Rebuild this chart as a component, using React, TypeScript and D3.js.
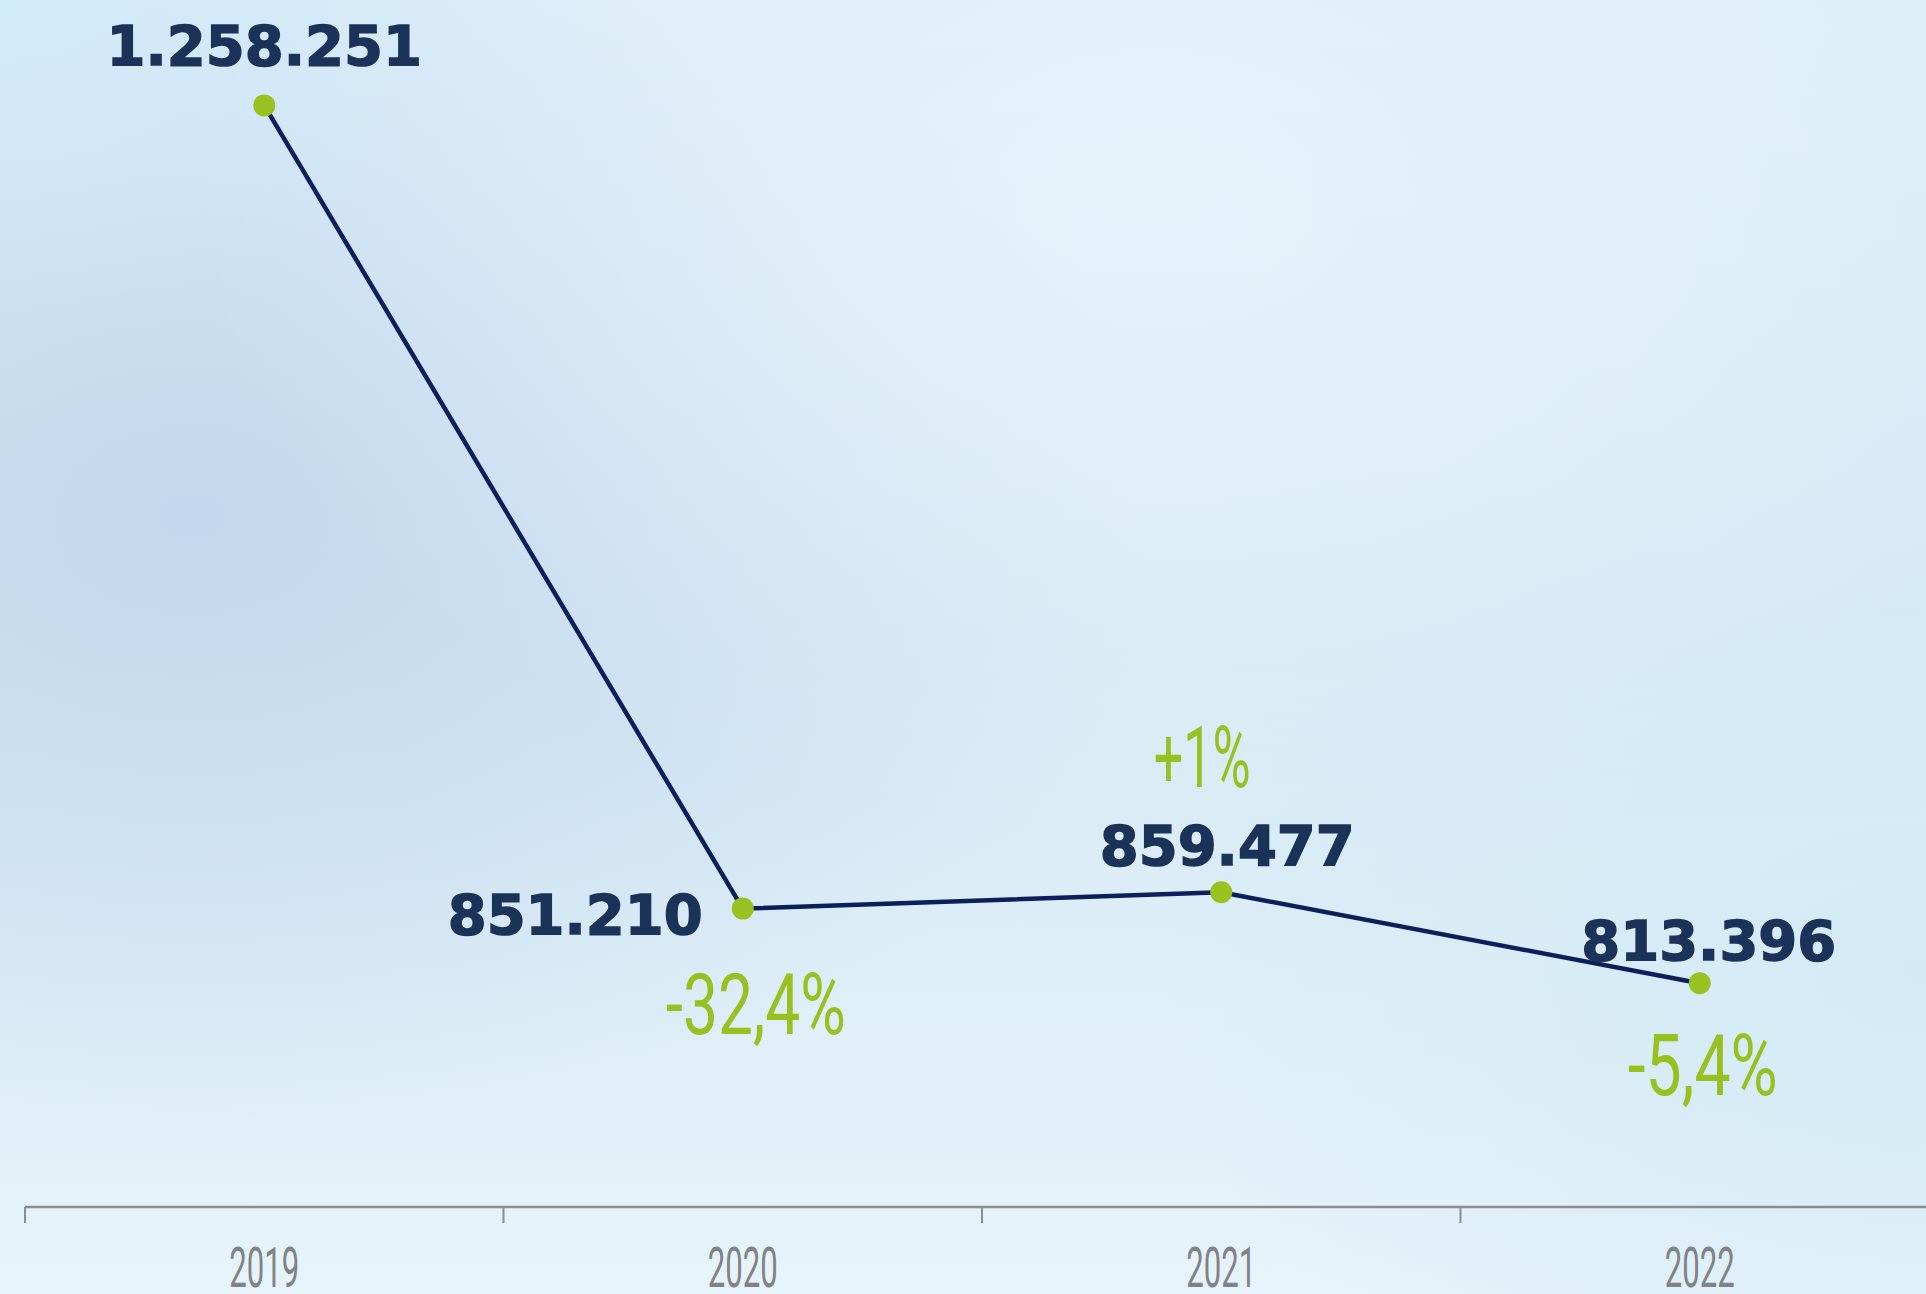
import * as d3 from 'd3';

const years = ['2019', '2020', '2021', '2022'];
const totals = [1258251, 851210, 859477, 813396];
const changes = ['', '-32,4%', '+1%', '-5,4%'];

// label placement per point (relative to the marker)
const valuePos = [
  { dx: 0, dy: -40, anchor: 'middle' },
  { dx: -40, dy: 25, anchor: 'end' },
  { dx: 6, dy: -27, anchor: 'middle' },
  { dx: 9, dy: -23, anchor: 'middle' },
];
const changePos = [
  { dx: 0, dy: 0, w: 0 },
  { dx: 13, dy: 125, w: 180 },
  { dx: -19, dy: -105, w: 97 },
  { dx: 3, dy: 112, w: 150 },
];

const W = 1926;
const H = 1294;
const AXIS_Y = 1207;

const fmt = (v: number) => d3.format(',')(v).replace(/,/g, '.');

export default function App() {
  const x = d3.scaleBand<string>().domain(years).range([25, 1939]).paddingInner(0).paddingOuter(0);
  const y = d3.scaleLinear().domain([700000, 1300000]).range([AXIS_Y, 23]);
  const cx = (i: number) => (x(years[i]) ?? 0) + x.bandwidth() / 2;
  const cy = (i: number) => y(totals[i]);

  const line = d3
    .line<number>()
    .x((_, i) => cx(i))
    .y((d) => y(d));

  const green = '#97c11f';
  const navy = '#1b3259';

  return (
    <div style={{ position: 'absolute', left: 0, top: 0 }}>
      <svg width={W} height={H} style={{ display: 'block' }}>
        <defs>
          <linearGradient id="bg" x1="0" y1="0" x2="0" y2="1">
            <stop offset="0" stopColor="#dcedf9" />
            <stop offset="0.5" stopColor="#d6e9f5" />
            <stop offset="1" stopColor="#e6f3fa" />
          </linearGradient>
          <radialGradient id="blob" cx="0.1" cy="0.4" r="0.5">
            <stop offset="0" stopColor="#c3d8ee" stopOpacity="1" />
            <stop offset="1" stopColor="#c3d8ee" stopOpacity="0" />
          </radialGradient>
          <radialGradient id="glow" cx="0.6" cy="0.15" r="0.5">
            <stop offset="0" stopColor="#e9f4fb" stopOpacity="0.8" />
            <stop offset="1" stopColor="#e9f4fb" stopOpacity="0" />
          </radialGradient>
          <radialGradient id="corner" cx="0" cy="0" r="0.25">
            <stop offset="0" stopColor="#d0ebf9" stopOpacity="1" />
            <stop offset="1" stopColor="#d0ebf9" stopOpacity="0" />
          </radialGradient>
          <radialGradient id="br" cx="1" cy="0.75" r="0.4">
            <stop offset="0" stopColor="#d3eaf5" stopOpacity="1" />
            <stop offset="1" stopColor="#d3eaf5" stopOpacity="0" />
          </radialGradient>
        </defs>
        <rect width={W} height={H} fill="url(#bg)" />
        <rect width={W} height={H} fill="url(#blob)" />
        <rect width={W} height={H} fill="url(#glow)" />
        <rect width={W} height={H} fill="url(#corner)" />
        <rect width={W} height={H} fill="url(#br)" />

        {/* axis */}
        <line x1={25} x2={W} y1={AXIS_Y} y2={AXIS_Y} stroke="#8b8d8e" strokeWidth={2.5} />
        {years.map((yr) => (
          <line
            key={'t' + yr}
            x1={x(yr)}
            x2={x(yr)}
            y1={AXIS_Y}
            y2={AXIS_Y + 16}
            stroke="#8b8d8e"
            strokeWidth={2}
          />
        ))}
        {years.map((yr, i) => (
          <text
            key={'l' + yr}
            x={cx(i)}
            y={1287}
            textAnchor="middle"
            fontFamily="Roboto, sans-serif"
            fontWeight={400}
            fontSize={56}
            fill="#808285"
            textLength={70}
            lengthAdjust="spacingAndGlyphs"
          >
            {yr}
          </text>
        ))}

        {/* line + markers */}
        <path d={line(totals) ?? ''} fill="none" stroke="#0b1f5c" strokeWidth={4.5} strokeLinejoin="round" />
        {totals.map((v, i) => (
          <circle key={'c' + i} cx={cx(i)} cy={y(v)} r={11} fill="#98c21f" />
        ))}

        {/* values */}
        {totals.map((v, i) => (
          <text
            key={'v' + i}
            x={cx(i) + valuePos[i].dx}
            y={cy(i) + valuePos[i].dy}
            textAnchor={valuePos[i].anchor}
            fontFamily="'DejaVu Sans', sans-serif"
            fontWeight={700}
            fontSize={56}
            fill={navy}
            stroke={navy}
            strokeWidth={1.5}
          >
            {fmt(v)}
          </text>
        ))}

        {/* changes */}
        {changes.map((c, i) =>
          c ? (
            <text
              key={'p' + i}
              x={cx(i) + changePos[i].dx}
              y={cy(i) + changePos[i].dy}
              textAnchor="middle"
              fontFamily="Roboto, sans-serif"
              fontWeight={400}
              fontSize={86}
              fill={green}
              textLength={changePos[i].w}
              lengthAdjust="spacingAndGlyphs"
            >
              {c}
            </text>
          ) : null
        )}
      </svg>
    </div>
  );
}
